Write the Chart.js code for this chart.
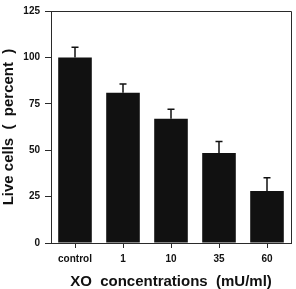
<!DOCTYPE html>
<html><head><meta charset="utf-8">
<script src="https://cdn.jsdelivr.net/npm/chart.js@4/dist/chart.umd.min.js"></script>
<style>html,body{margin:0;padding:0;background:#fff;}#wrap{width:296px;height:289px;}</style>
</head><body><div id="wrap"><canvas id="c" width="296" height="289"></canvas></div>
<script>
const categories = ["control", "1", "10", "35", "60"];
const liveCells = [100, 81, 67, 48.5, 28];
const errors = [5.5, 4.7, 5, 6.2, 7.2];
const yTicks = [0, 25, 50, 75, 100, 125];

const lineColor = '#2a2a2a';
const fontFam = 'Liberation Sans, Arial, sans-serif';

const errorBars = {
  id: 'errorBars',
  afterDatasetsDraw(chart) {
    const ctx = chart.ctx, y = chart.scales.y, meta = chart.getDatasetMeta(0);
    ctx.save();
    ctx.strokeStyle = '#111';
    ctx.lineWidth = 1.5;
    meta.data.forEach((bar, i) => {
      const top = y.getPixelForValue(liveCells[i] + errors[i]);
      const base = y.getPixelForValue(liveCells[i]);
      ctx.beginPath();
      ctx.moveTo(bar.x, base); ctx.lineTo(bar.x, top);
      ctx.moveTo(bar.x - 3.5, top); ctx.lineTo(bar.x + 3.5, top);
      ctx.stroke();
    });
    ctx.restore();
  }
};
const frame = {
  id: 'frame',
  afterDraw(chart) {
    const {ctx, chartArea: a} = chart;
    ctx.save();
    ctx.strokeStyle = lineColor; ctx.lineWidth = 1;
    ctx.beginPath();
    ctx.moveTo(a.left, a.top + 0.5); ctx.lineTo(a.right + 0.5, a.top + 0.5); ctx.lineTo(a.right + 0.5, a.bottom);
    ctx.stroke();
    ctx.restore();
  }
};

new Chart(document.getElementById('c'), {
  type: 'bar',
  data: {
    labels: categories,
    datasets: [{ data: liveCells, backgroundColor: '#111', borderWidth: 0,
      barPercentage: 0.7, categoryPercentage: 1 }]
  },
  options: {
    responsive: false, animation: false,
    layout: { padding: { top: 6, right: 5, left: 0, bottom: 0 } },
    plugins: { legend: { display: false }, tooltip: { enabled: false } },
    scales: {
      x: {
        offset: true,
        grid: { display: true, drawOnChartArea: false, drawTicks: true, tickLength: 5, color: lineColor, offset: false },
        border: { display: true, color: lineColor, width: 1 },
        ticks: { color: '#111', font: { family: fontFam, size: 10, weight: 'bold' }, padding: 5, maxRotation: 0 },
        title: { display: true, text: 'XO  concentrations  (mU/ml)', color: '#111',
          font: { family: fontFam, size: 15, weight: 'bold' }, padding: { top: 4, bottom: -2 } },
        afterFit(s) { s.height = 46; }
      },
      y: {
        min: 0, max: 125,
        afterBuildTicks(s) { s.ticks = yTicks.map(v => ({ value: v })); },
        grid: { display: true, drawOnChartArea: false, drawTicks: true, tickLength: 6, color: lineColor },
        border: { display: true, color: lineColor, width: 1 },
        ticks: { color: '#111', font: { family: fontFam, size: 10, weight: 'bold' }, padding: 5 },
        title: { display: true, text: 'Live cells  (  percent  )', color: '#111',
          font: { family: fontFam, size: 15, weight: 'bold' }, padding: { top: 0, bottom: 2 } },
        afterFit(s) { s.width = 51; }
      }
    }
  },
  plugins: [errorBars, frame]
});
</script></body></html>
